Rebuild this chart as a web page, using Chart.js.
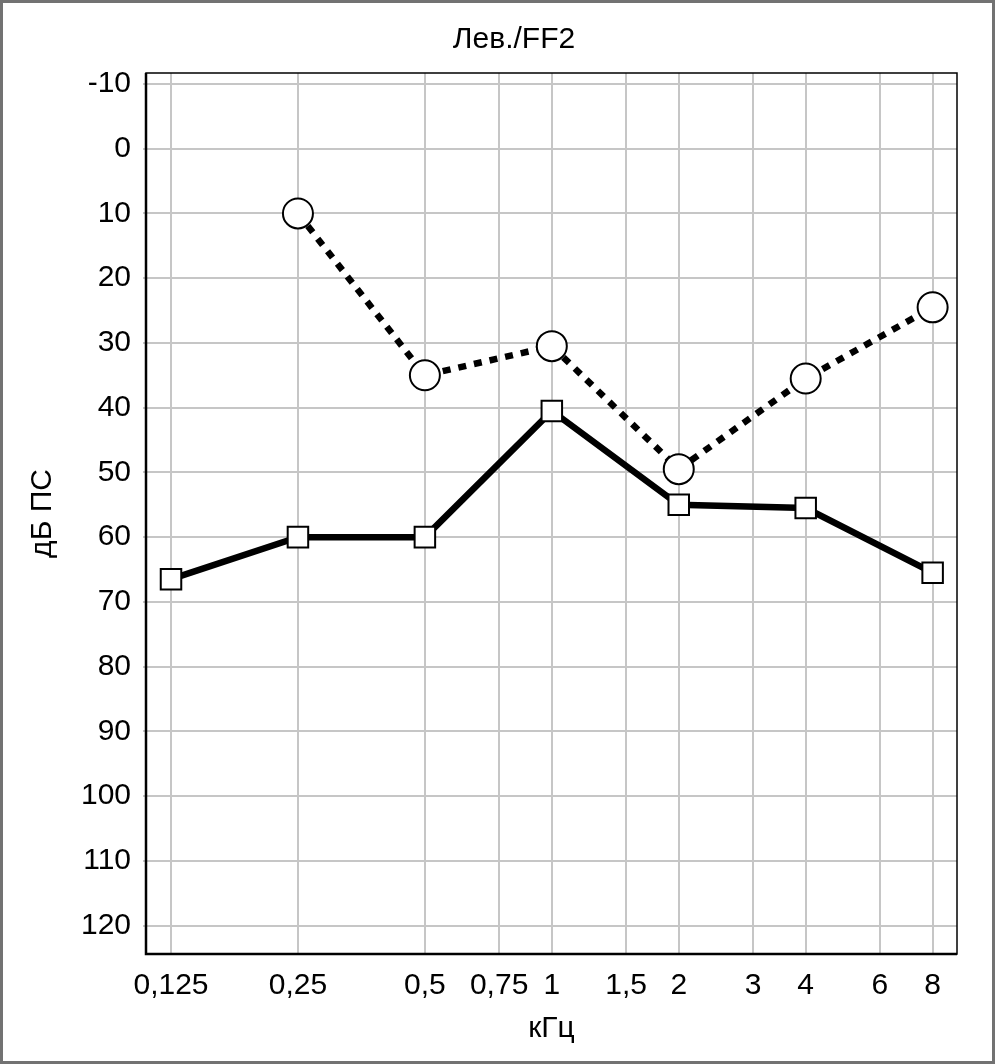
<!DOCTYPE html>
<html>
<head>
<meta charset="utf-8">
<script src="https://cdn.jsdelivr.net/npm/chart.js@4"></script>
<style>
  body { margin: 0; background: #fff; }
  #wrap { position: relative; width: 995px; height: 1064px; }
  #wrap::after {
    content: ''; position: absolute; left: 0; top: 0; right: 0; bottom: 0;
    border: 3px solid #727272; pointer-events: none;
  }
  canvas { display: block; }
</style>
</head>
<body>
<div id="wrap"><canvas id="audiogram" width="995" height="1064"></canvas></div>
<script>
// ----- data -----
const chartTitle = 'Лев./FF2';
const xTitle = 'кГц';
const yTitle = 'дБ ПС';

const freqTicks = [0.125, 0.25, 0.5, 0.75, 1, 1.5, 2, 3, 4, 6, 8];
const freqLabels = ['0,125', '0,25', '0,5', '0,75', '1', '1,5', '2', '3', '4', '6', '8'];
const dbTicks = [-10, 0, 10, 20, 30, 40, 50, 60, 70, 80, 90, 100, 110, 120];

// solid line, squares
const squareFreqs = [0.125, 0.25, 0.5, 1, 2, 4, 8];
const squareValues = [66.5, 60, 60, 40.5, 55, 55.5, 65.5];

// dotted line, circles
const circleFreqs = [0.25, 0.5, 1, 2, 4, 8];
const circleValues = [10, 35, 30.5, 49.5, 35.5, 24.5];

const font = "'Liberation Sans', Arial, sans-serif";
const fontSize = 30;

// plot frame + chart title
const framePlugin = {
  id: 'frame',
  beforeDatasetsDraw(chart) {
    const a = chart.chartArea;
    const ctx = chart.ctx;
    ctx.save();
    ctx.strokeStyle = '#000';
    ctx.lineWidth = 1.5;
    ctx.strokeRect(a.left, a.top, a.right - a.left, a.bottom - a.top);
    ctx.lineWidth = 2.5;
    ctx.beginPath();
    ctx.moveTo(a.left, a.top);
    ctx.lineTo(a.left, a.bottom);
    ctx.lineTo(a.right, a.bottom);
    ctx.stroke();
    ctx.restore();
  },
  afterDraw(chart) {
    const ctx = chart.ctx;
    ctx.save();
    ctx.fillStyle = '#000';
    ctx.font = fontSize + 'px ' + font;
    ctx.textAlign = 'center';
    ctx.textBaseline = 'middle';
    ctx.fillText(chartTitle, 514, 40);
    ctx.restore();
  }
};

const ctx = document.getElementById('audiogram').getContext('2d');
new Chart(ctx, {
  type: 'line',
  data: {
    datasets: [
      {
        label: 'squares',
        data: squareFreqs.map((f, i) => ({ x: f, y: squareValues[i] })),
        borderColor: '#000',
        borderWidth: 6.5,
        pointStyle: 'rect',
        pointRadius: 14.5,
        pointBackgroundColor: '#fff',
        pointBorderColor: '#000',
        pointBorderWidth: 2,
        tension: 0
      },
      {
        label: 'circles',
        data: circleFreqs.map((f, i) => ({ x: f, y: circleValues[i] })),
        borderColor: '#000',
        borderWidth: 6.5,
        borderDash: [8, 8],
        pointStyle: 'circle',
        pointRadius: 15,
        pointBackgroundColor: '#fff',
        pointBorderColor: '#000',
        pointBorderWidth: 2,
        tension: 0
      }
    ]
  },
  options: {
    responsive: false,
    animation: false,
    layout: { padding: { left: 0, right: 38, top: 73, bottom: 0 } },
    plugins: {
      legend: { display: false },
      tooltip: { enabled: false }
    },
    scales: {
      x: {
        type: 'logarithmic',
        min: 0.125 * Math.pow(2, -0.197),
        max: 8 * Math.pow(2, 0.192),
        afterBuildTicks: (scale) => { scale.ticks = freqTicks.map(v => ({ value: v })); },
        afterFit: (scale) => { scale.height = 110; },
        grid: { color: '#c6c6c6', lineWidth: 2, drawTicks: false },
        border: { display: false },
        ticks: {
          color: '#000',
          font: { family: font, size: fontSize },
          padding: 14,
          maxRotation: 0,
          autoSkip: false,
          callback: (v, i) => freqLabels[i]
        },
        title: {
          display: true, text: xTitle, color: '#000',
          font: { family: font, size: fontSize },
          padding: { top: 0, bottom: 17 }
        }
      },
      y: {
        reverse: true,
        min: -11.7,
        max: 124.4,
        afterBuildTicks: (scale) => { scale.ticks = dbTicks.map(v => ({ value: v })); },
        afterFit: (scale) => { scale.width = 146; },
        grid: { color: '#c6c6c6', lineWidth: 2, tickLength: 3 },
        border: { display: false },
        ticks: {
          color: '#000',
          font: { family: font, size: fontSize },
          padding: 12,
          autoSkip: false,
          callback: (v) => String(v)
        },
        title: {
          display: true, text: yTitle, color: '#000',
          font: { family: font, size: fontSize },
          padding: { top: 25, bottom: 0 }
        }
      }
    }
  },
  plugins: [framePlugin]
});
</script>
</body>
</html>
